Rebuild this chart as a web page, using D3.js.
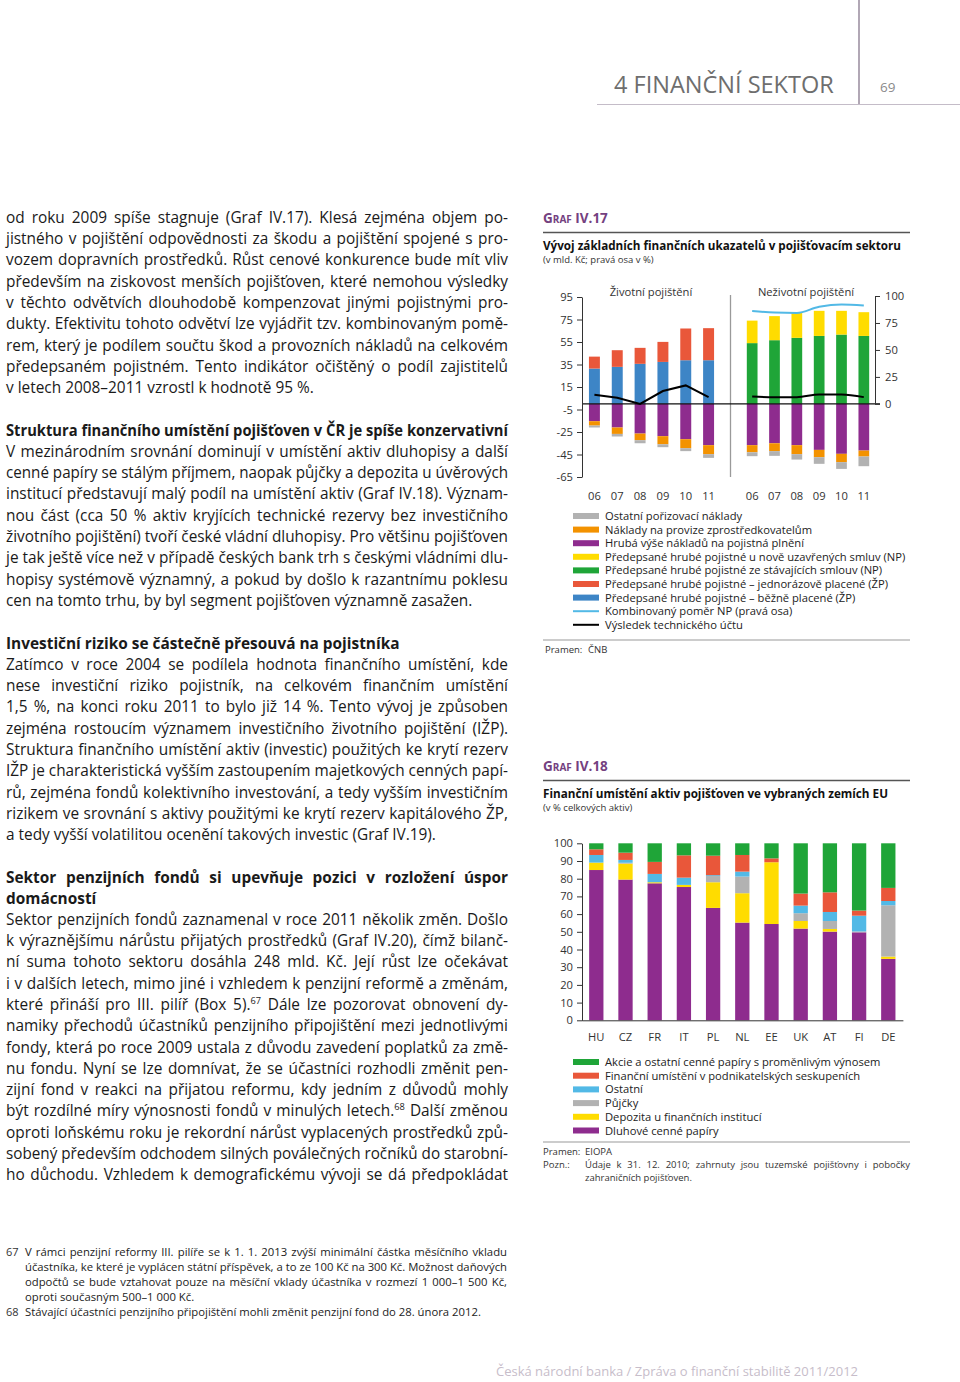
<!DOCTYPE html>
<html>
<head>
<meta charset="utf-8">
<script src="https://cdn.jsdelivr.net/npm/d3@7"></script>
<style>
  body { margin: 0; background: #fff; }
  svg { display: block; font-family: "Open Sans", "Noto Sans", sans-serif; }
</style>
</head>
<body>
<script>
// --- Graf IV.17 data (mld. Kč, right axis in %) ---
const years = ['06', '07', '08', '09', '10', '11'];
const lifeBezne = [31.4, 32.9, 35.6, 37.3, 38.8, 38.8];
const lifeJednoraz = [10.6, 14.8, 14.2, 17.8, 28.2, 28.5];
const lifePlneni = [-15.4, -21, -26.4, -28.7, -31.4, -36.7];
const lifeProvize = [-3.9, -5.7, -5.9, -7.2, -8, -8];
const lifeOstatni = [-1.7, -2.3, -2.7, -2.6, -2.6, -3.3];
const lifeVysledek = [8.1, 5.5, 0, 11.4, 16.4, 6];
const nonlifeStavajici = [54, 56.6, 58.7, 60.4, 61.6, 60.4];
const nonlifeNove = [20, 21.4, 22.3, 22.3, 21.1, 21.1];
const nonlifePlneni = [-36.7, -35, -36.7, -40.9, -44.4, -41.5];
const nonlifeProvize = [-6.3, -7, -8, -6.5, -7.4, -5.3];
const nonlifeOstatni = [-3.5, -4.2, -4.8, -5.9, -6, -8.6];
const nonlifeVysledek = [6.5, 6, 6, 8.3, 8.3, 6];
const nonlifeKombinovany = [86.2, 84.6, 84.3, 90, 92.2, 91.2];
const leftTicks = [95, 75, 55, 35, 15, -5, -25, -45, -65];
const rightTicks = [0, 25, 50, 75, 100];

// --- Graf IV.18 data (% celkových aktiv) ---
const countries = ['HU', 'CZ', 'FR', 'IT', 'PL', 'NL', 'EE', 'UK', 'AT', 'FI', 'DE'];
const dluhove = [84.9, 79.5, 77.4, 75.3, 63.5, 55.2, 54.4, 51.8, 50.1, 49.7, 34.7];
const depozita = [4.2, 9, 0.6, 1.2, 14.5, 16.6, 34.9, 4.3, 1.5, 0, 1.3];
const pujcky = [0, 0.5, 0, 0, 3.5, 9.4, 0, 4.4, 4.5, 0.5, 29];
const ostatni = [4.3, 1.6, 4.7, 4.1, 0.5, 2.8, 0, 4.3, 5.1, 8.9, 2.4];
const podnikatelske = [3.2, 4.1, 6.8, 12.6, 11, 9.4, 2.2, 6.8, 11.1, 2.9, 7.4];
const akcie = [3.4, 5.3, 10.5, 6.8, 7, 6.6, 8.5, 28.4, 27.7, 38, 25.2];
const pctTicks = [0, 10, 20, 30, 40, 50, 60, 70, 80, 90, 100];

const C = {
  purple: '#8e2c8e', orange: '#f39200', gray: '#b2b2b2', yellow: '#ffdc00',
  green: '#1fa538', red: '#e9573a', blue: '#3d85c6', lightblue: '#52b9e6'
};

const svg = d3.select('body').append('svg').attr('width', 960).attr('height', 1382);

// fit a line to a width: justify with word-spacing, squeeze if too wide
function fitLine(t, target, justify) {
  const w = t.node().getComputedTextLength();
  const spaces = (t.text().match(/ /g) || []).length;
  if (w > target) {
    t.attr('textLength', target).attr('lengthAdjust', 'spacingAndGlyphs');
  } else if (justify && spaces > 0) {
    t.style('word-spacing', ((target - w) / spaces) + 'px');
  }
}

// one text line; "^67^" marks a footnote number set as superscript
function addLine(x, y, str, o) {
  const t = svg.append('text').attr('x', x).attr('y', y)
    .attr('font-size', o.size).attr('fill', o.color || '#1a1a1a')
    .attr('font-weight', o.bold ? 700 : 400);
  const parts = str.split(/\^(\d+)\^/);
  parts.forEach((p, i) => {
    if (i % 2 === 0) {
      if (p) t.append('tspan').text(p);
    } else {
      t.append('tspan').text(p).attr('font-size', o.size * 0.6).attr('baseline-shift', 'super');
    }
  });
  if (o.width) fitLine(t, o.width, o.justify);
  return t;
}

// --- page header ---
svg.append('line').attr('x1', 859).attr('x2', 859).attr('y1', 0).attr('y2', 104)
  .attr('stroke', '#7d6d84').attr('stroke-width', 1.2);
svg.append('line').attr('x1', 597).attr('x2', 960).attr('y1', 104.5).attr('y2', 104.5)
  .attr('stroke', '#c4bcc8').attr('stroke-width', 1);
svg.append('text').attr('x', 614).attr('y', 93).attr('font-size', 23.5).attr('fill', '#6e6e6e')
  .text('4 FINANČNÍ SEKTOR');
svg.append('text').attr('x', 880).attr('y', 92).attr('font-size', 13.5).attr('fill', '#8a8a8a').text('69');

// --- body text, left column ---
const bodyBlocks = [
  { y: 217, bold: false, lines: [
    'od roku 2009 spíše stagnuje (Graf IV.17). Klesá zejména objem po-',
    'jistného v pojištění odpovědnosti za škodu a pojištění spojené s pro-',
    'vozem dopravních prostředků. Růst cenové konkurence bude mít vliv',
    'především na ziskovost menších pojišťoven, které nemohou výsledky',
    'v těchto odvětvích dlouhodobě kompenzovat jinými pojistnými pro-',
    'dukty. Efektivitu tohoto odvětví lze vyjádřit tzv. kombinovaným pomě-',
    'rem, který je podílem součtu škod a provozních nákladů na celkovém',
    'předepsaném pojistném. Tento indikátor očištěný o podíl zajistitelů',
    'v letech 2008–2011 vzrostl k hodnotě 95 %.'] },
  { y: 430, bold: true, last: true, lines: [
    'Struktura finančního umístění pojišťoven v ČR je spíše konzervativní'] },
  { y: 451, bold: false, lines: [
    'V mezinárodním srovnání dominují v umístění aktiv dluhopisy a další',
    'cenné papíry se stálým příjmem, naopak půjčky a depozita u úvěrových',
    'institucí představují malý podíl na umístění aktiv (Graf IV.18). Význam-',
    'nou část (cca 50 % aktiv kryjících technické rezervy bez investičního',
    'životního pojištění) tvoří české vládní dluhopisy. Pro většinu pojišťoven',
    'je tak ještě více než v případě českých bank trh s českými vládními dlu-',
    'hopisy systémově významný, a pokud by došlo k razantnímu poklesu',
    'cen na tomto trhu, by byl segment pojišťoven významně zasažen.'] },
  { y: 643, bold: true, lines: [
    'Investiční riziko se částečně přesouvá na pojistníka'] },
  { y: 664, bold: false, lines: [
    'Zatímco v roce 2004 se podílela hodnota finančního umístění, kde',
    'nese investiční riziko pojistník, na celkovém finančním umístění',
    '1,5 %, na konci roku 2011 to bylo již 14 %. Tento vývoj je způsoben',
    'zejména rostoucím významem investičního životního pojištění (IŽP).',
    'Struktura finančního umístění aktiv (investic) použitých ke krytí rezerv',
    'IŽP je charakteristická vyšším zastoupením majetkových cenných papí-',
    'rů, zejména fondů kolektivního investování, a tedy vyšším investičním',
    'rizikem ve srovnání s aktivy použitými ke krytí rezerv kapitálového ŽP,',
    'a tedy vyšší volatilitou ocenění takových investic (Graf IV.19).'] },
  { y: 877, bold: true, lines: [
    'Sektor penzijních fondů si upevňuje pozici v rozložení úspor',
    'domácností'] },
  { y: 919, bold: false, full: true, lines: [
    'Sektor penzijních fondů zaznamenal v roce 2011 několik změn. Došlo',
    'k výraznějšímu nárůstu přijatých prostředků (Graf IV.20), čímž bilanč-',
    'ní suma tohoto sektoru dosáhla 248 mld. Kč. Její růst lze očekávat',
    'i v dalších letech, mimo jiné i vzhledem k penzijní reformě a změnám,',
    'které přináší pro III. pilíř (Box 5).^67^ Dále lze pozorovat obnovení dy-',
    'namiky přechodů účastníků penzijního připojištění mezi jednotlivými',
    'fondy, která po roce 2009 ustala z důvodu zavedení poplatků za změ-',
    'nu fondu. Nyní se lze domnívat, že se účastníci rozhodli změnit pen-',
    'zijní fond v reakci na přijatou reformu, kdy jedním z důvodů mohly',
    'být rozdílné míry výnosnosti fondů v minulých letech.^68^ Další změnou',
    'oproti loňskému roku je rekordní nárůst vyplacených prostředků způ-',
    'sobený především odchodem silných poválečných ročníků do starobní-',
    'ho důchodu. Vzhledem k demografickému vývoji se dá předpokládat'] }
];
const lh = 21.3;
bodyBlocks.forEach(b => {
  b.lines.forEach((s, i) => {
    const isLast = i === b.lines.length - 1;
    const justify = b.full || b.last || !isLast;
    addLine(6, b.y + i * lh + 5.7, s, {
      size: 15.4, bold: b.bold, width: 502, justify: justify
    });
  });
});

// --- footnotes ---
const notes = [
  { n: '67', lines: [
    'V rámci penzijní reformy III. pilíře se k 1. 1. 2013 zvýší minimální částka měsíčního vkladu',
    'účastníka, ke které je vyplácen státní příspěvek, a to ze 100 Kč na 300 Kč. Možnost daňových',
    'odpočtů se bude vztahovat pouze na měsíční vklady účastníka v rozmezí 1 000–1 500 Kč,',
    'oproti současným 500–1 000 Kč.'] },
  { n: '68', lines: [
    'Stávající účastníci penzijního připojištění mohli změnit penzijní fond do 28. února 2012.'] }
];
let ny = 1251;
notes.forEach(nt => {
  addLine(6, ny + 4.5, nt.n, { size: 11, color: '#333' });
  nt.lines.forEach((s, i) => {
    const isLast = i === nt.lines.length - 1;
    addLine(25, ny + 4.5, s, { size: 11.3, color: '#222', width: isLast ? 462 : 482, justify: !isLast });
    ny += 15;
  });
});

// --- footer ---
svg.append('text').attr('x', 496).attr('y', 1376).attr('font-size', 13).attr('fill', '#c7bdca')
  .text('Česká národní banka / Zpráva o finanční stabilitě 2011/2012');

// --- chart headers ---
function grafHeader(y, num, title, sub) {
  const t = svg.append('text').attr('x', 543).attr('y', y).attr('fill', '#74417f')
    .attr('font-weight', 700).attr('font-size', 13.5);
  t.append('tspan').text('G');
  t.append('tspan').attr('font-size', 10).text('RAF');
  t.append('tspan').text(' IV.' + num);
  svg.append('line').attr('x1', 543).attr('x2', 910).attr('y1', y + 9.5).attr('y2', y + 9.5)
    .attr('stroke', '#555').attr('stroke-width', 1.5);
  addLine(543, y + 27, title, { size: 12, bold: true, color: '#111', width: title.length > 58 ? 358 : 345 });
  svg.append('text').attr('x', 543).attr('y', y + 40).attr('font-size', 9.5).attr('fill', '#333').text(sub);
}
grafHeader(223, '17', 'Vývoj základních finančních ukazatelů v pojišťovacím sektoru', '(v mld. Kč; pravá osa v %)');
grafHeader(771, '18', 'Finanční umístění aktiv pojišťoven ve vybraných zemích EU', '(v % celkových aktiv)');

function styleAxis(g) {
  g.selectAll('path').attr('stroke', '#333');
  g.selectAll('line').attr('stroke', '#333');
  g.selectAll('text').attr('font-size', 11.2).attr('fill', '#333')
    .attr('font-family', '"Open Sans", sans-serif');
}
const plainNum = d => String(d); // keep ASCII hyphen as in the original

// ===== Graf IV.17 =====
const yL = d3.scaleLinear().domain([-65, 95]).range([477, 297]);
const yR = d3.scaleLinear().domain([0, 100]).range([yL(0), 296]);
const xLife = d3.scaleBand().domain(years).range([583, 720]).paddingInner(0.52).paddingOuter(0.26);
const xNon = d3.scaleBand().domain(years).range([741, 875]).paddingInner(0.52).paddingOuter(0.26);

const lifeRows = years.map((y, i) => ({ year: y, bezne: lifeBezne[i], jednoraz: lifeJednoraz[i],
  plneni: lifePlneni[i], provize: lifeProvize[i], ostatni: lifeOstatni[i] }));
const nonRows = years.map((y, i) => ({ year: y, stavajici: nonlifeStavajici[i], nove: nonlifeNove[i],
  plneni: nonlifePlneni[i], provize: nonlifeProvize[i], ostatni: nonlifeOstatni[i] }));

const lifeColors = { bezne: C.blue, jednoraz: C.red, plneni: C.purple, provize: C.orange, ostatni: C.gray };
const nonColors = { stavajici: C.green, nove: C.yellow, plneni: C.purple, provize: C.orange, ostatni: C.gray };

function drawStack(rows, keys, colors, x) {
  const series = d3.stack().keys(keys).offset(d3.stackOffsetDiverging)(rows);
  svg.append('g').selectAll('g').data(series).join('g')
    .attr('fill', d => colors[d.key])
    .selectAll('rect').data(d => d).join('rect')
    .attr('x', d => x(d.data.year))
    .attr('width', x.bandwidth())
    .attr('y', d => yL(Math.max(d[0], d[1])))
    .attr('height', d => Math.abs(yL(d[0]) - yL(d[1])));
}
drawStack(lifeRows, ['bezne', 'jednoraz', 'plneni', 'provize', 'ostatni'], lifeColors, xLife);
drawStack(nonRows, ['stavajici', 'nove', 'plneni', 'provize', 'ostatni'], nonColors, xNon);

// separator between panels
svg.append('line').attr('x1', 730.5).attr('x2', 730.5).attr('y1', 295).attr('y2', 477)
  .attr('stroke', '#9a9a9a').attr('stroke-width', 1.3);

// zero line
svg.append('line').attr('x1', 582).attr('x2', 880).attr('y1', yL(0)).attr('y2', yL(0))
  .attr('stroke', '#111').attr('stroke-width', 1.2);

// lines
const lifeLine = d3.line().x((d, i) => xLife(years[i]) + xLife.bandwidth() / 2).y(d => yL(d));
svg.append('path').datum(lifeVysledek).attr('d', lifeLine)
  .attr('fill', 'none').attr('stroke', '#000').attr('stroke-width', 2);
const nonLine = d3.line().curve(d3.curveMonotoneX)
  .x((d, i) => xNon(years[i]) + xNon.bandwidth() / 2).y(d => yL(d));
svg.append('path').datum(nonlifeVysledek).attr('d', nonLine)
  .attr('fill', 'none').attr('stroke', '#000').attr('stroke-width', 2);
const combLine = d3.line().curve(d3.curveMonotoneX)
  .x((d, i) => xNon(years[i]) + xNon.bandwidth() / 2).y(d => yR(d));
svg.append('path').datum(nonlifeKombinovany).attr('d', combLine)
  .attr('fill', 'none').attr('stroke', C.lightblue).attr('stroke-width', 2);

// axes
svg.append('g').attr('transform', 'translate(582,0)')
  .call(d3.axisLeft(yL).tickValues(leftTicks).tickFormat(plainNum)
    .tickSize(5).tickSizeOuter(0).tickPadding(4))
  .call(styleAxis);
svg.append('g').attr('transform', 'translate(875,0)')
  .call(d3.axisRight(yR).tickValues(rightTicks).tickFormat(plainNum)
    .tickSize(5).tickSizeOuter(0).tickPadding(5))
  .call(styleAxis);
[xLife, xNon].forEach(x => {
  svg.append('g').attr('transform', 'translate(0,477)')
    .call(d3.axisBottom(x).tickSize(0).tickPadding(15))
    .call(g => g.select('.domain').remove())
    .call(styleAxis);
});

svg.append('text').attr('x', 651).attr('y', 296).attr('text-anchor', 'middle')
  .attr('font-size', 11.2).attr('fill', '#333').text('Životní pojištění');
svg.append('text').attr('x', 806).attr('y', 296).attr('text-anchor', 'middle')
  .attr('font-size', 11.2).attr('fill', '#333').text('Neživotní pojištění');

// legend IV.17
const legend1 = [
  { t: 'Ostatní pořizovací náklady', c: C.gray, k: 'rect' },
  { t: 'Náklady na provize zprostředkovatelům', c: C.orange, k: 'rect' },
  { t: 'Hrubá výše nákladů na pojistná plnění', c: C.purple, k: 'rect' },
  { t: 'Předepsané hrubé pojistné u nově uzavřených smluv (NP)', c: C.yellow, k: 'rect' },
  { t: 'Předepsané hrubé pojistné ze stávajících smlouv (NP)', c: C.green, k: 'rect' },
  { t: 'Předepsané hrubé pojistné – jednorázově placené (ŽP)', c: C.red, k: 'rect' },
  { t: 'Předepsané hrubé pojistné – běžně placené (ŽP)', c: C.blue, k: 'rect' },
  { t: 'Kombinovaný poměr NP (pravá osa)', c: C.lightblue, k: 'line' },
  { t: 'Výsledek technického účtu', c: '#000', k: 'line' }
];
function drawLegend(items, y0, step) {
  const g = svg.append('g').selectAll('g').data(items).join('g')
    .attr('transform', (d, i) => `translate(0,${y0 + i * step})`);
  g.filter(d => d.k === 'rect').append('rect')
    .attr('x', 573).attr('y', -3).attr('width', 26).attr('height', 6).attr('fill', d => d.c);
  g.filter(d => d.k === 'line').append('line')
    .attr('x1', 573).attr('x2', 599).attr('stroke', d => d.c).attr('stroke-width', 2);
  g.append('text').attr('x', 605).attr('y', 4).attr('font-size', 11.2).attr('fill', '#222').text(d => d.t);
}
drawLegend(legend1, 516, 13.6);

svg.append('line').attr('x1', 543).attr('x2', 910).attr('y1', 640).attr('y2', 640)
  .attr('stroke', '#999').attr('stroke-width', 1);
svg.append('text').attr('x', 545).attr('y', 653).attr('font-size', 9.5).attr('fill', '#333').text('Pramen:');
svg.append('text').attr('x', 588).attr('y', 653).attr('font-size', 9.5).attr('fill', '#333').text('ČNB');

// ===== Graf IV.18 =====
const y2 = d3.scaleLinear().domain([0, 100]).range([1020.3, 843.3]);
const x2 = d3.scaleBand().domain(countries).range([581.7, 902.9]).paddingInner(0.51).paddingOuter(0.255);
const assetRows = countries.map((c, i) => ({ country: c, dluhove: dluhove[i], depozita: depozita[i],
  pujcky: pujcky[i], ostatni: ostatni[i], podnikatelske: podnikatelske[i], akcie: akcie[i] }));
const assetColors = { dluhove: C.purple, depozita: C.yellow, pujcky: C.gray, ostatni: C.lightblue,
  podnikatelske: C.red, akcie: C.green };
const assetSeries = d3.stack()
  .keys(['dluhove', 'depozita', 'pujcky', 'ostatni', 'podnikatelske', 'akcie'])(assetRows);
svg.append('g').selectAll('g').data(assetSeries).join('g')
  .attr('fill', d => assetColors[d.key])
  .selectAll('rect').data(d => d).join('rect')
  .attr('x', d => x2(d.data.country))
  .attr('width', x2.bandwidth())
  .attr('y', d => y2(d[1]))
  .attr('height', d => y2(d[0]) - y2(d[1]));

svg.append('g').attr('transform', 'translate(582,0)')
  .call(d3.axisLeft(y2).tickValues(pctTicks).tickFormat(plainNum)
    .tickSize(5).tickSizeOuter(0).tickPadding(4))
  .call(styleAxis);
svg.append('g').attr('transform', 'translate(0,1020.3)')
  .call(d3.axisBottom(x2).tickSize(0).tickPadding(13))
  .call(styleAxis);

const legend2 = [
  { t: 'Akcie a ostatní cenné papíry s proměnlivým výnosem', c: C.green, k: 'rect' },
  { t: 'Finanční umístění v podnikatelských seskupeních', c: C.red, k: 'rect' },
  { t: 'Ostatní', c: C.lightblue, k: 'rect' },
  { t: 'Půjčky', c: C.gray, k: 'rect' },
  { t: 'Depozita u finančních institucí', c: C.yellow, k: 'rect' },
  { t: 'Dluhové cenné papíry', c: C.purple, k: 'rect' }
];
drawLegend(legend2, 1062, 13.7);

svg.append('line').attr('x1', 543).attr('x2', 910).attr('y1', 1142).attr('y2', 1142)
  .attr('stroke', '#999').attr('stroke-width', 1);
svg.append('text').attr('x', 543).attr('y', 1155).attr('font-size', 9.5).attr('fill', '#333').text('Pramen:');
svg.append('text').attr('x', 585).attr('y', 1155).attr('font-size', 9.5).attr('fill', '#333').text('EIOPA');
svg.append('text').attr('x', 543).attr('y', 1168).attr('font-size', 9.5).attr('fill', '#333').text('Pozn.:');
addLine(585, 1168, 'Údaje k 31. 12. 2010; zahrnuty jsou tuzemské pojišťovny i pobočky',
  { size: 9.5, color: '#333', width: 325, justify: true });
svg.append('text').attr('x', 585).attr('y', 1181).attr('font-size', 9.5).attr('fill', '#333')
  .text('zahraničních pojišťoven.');
</script>
</body>
</html>
